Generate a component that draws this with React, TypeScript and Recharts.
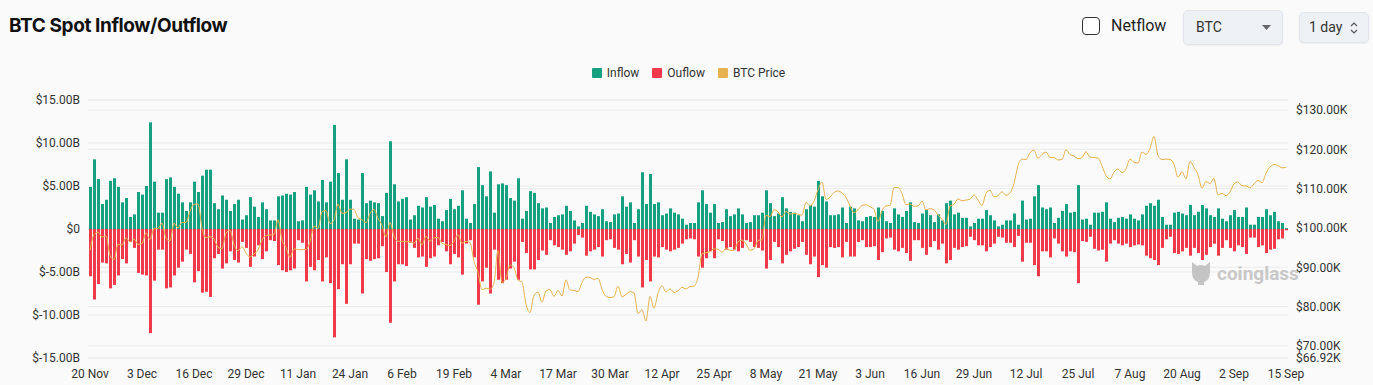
import React from 'react';
import { ComposedChart, Bar, Line, XAxis, YAxis, CartesianGrid, Legend } from 'recharts';

const MONTHS = ['Jan', 'Feb', 'Mar', 'Apr', 'May', 'Jun', 'Jul', 'Aug', 'Sep', 'Oct', 'Nov', 'Dec'];
const START_DAY = Date.UTC(2024, 10, 20);

const TICK_LABELS = [
  '20 Nov', '3 Dec', '16 Dec', '29 Dec', '11 Jan', '24 Jan', '6 Feb', '19 Feb', '4 Mar', '17 Mar',
  '30 Mar', '12 Apr', '25 Apr', '8 May', '21 May', '3 Jun', '16 Jun', '29 Jun', '12 Jul', '25 Jul',
  '7 Aug', '20 Aug', '2 Sep', '15 Sep',
];

// daily spot inflow, $B
const INFLOW_B = [
  4.9, 8.1, 5.8, 2.9, 3.4, 5.6, 5.9, 4.9, 3.1, 3.6, 1.4, 1.7, 4.3, 4.0, 5.0, 12.4, 5.5, 1.9, 1.9, 5.8,
  6.0, 4.9, 4.1, 3.1, 2.1, 3.1, 5.5, 4.3, 6.2, 6.9, 6.9, 3.0, 2.3, 3.9, 3.4, 2.1, 2.9,
  3.4, 1.1, 1.6, 3.7, 2.6, 1.4, 3.1, 2.3, 1.0, 1.0, 3.8, 3.9, 4.1, 4.0, 4.3, 0.9, 1.0, 4.9, 4.0, 4.5,
  3.2, 5.7, 3.1, 5.5, 12.1, 6.5, 3.4, 8.1, 3.4, 1.2, 1.1, 6.5, 3.0, 3.3, 3.1, 3.0, 1.5,
  4.2,
  10.2, 5.2, 3.2, 3.5, 3.7, 1.1, 1.6, 2.7, 2.5, 3.7, 2.6, 2.8, 1.2, 0.9, 2.2, 3.5, 2.3, 2.7, 4.5, 1.2,
  0.7, 2.9, 7.2, 5.1, 3.8, 6.7, 1.9, 5.2, 5.3, 5.1, 3.6, 3.3, 5.9, 1.2, 2.1, 4.4, 4.2, 3.0,
  2.4, 2.5, 0.7, 1.4, 1.6, 1.7, 2.7, 2.1, 1.0, 0.3, 0.7, 2.7, 2.0, 1.7, 1.5, 2.3, 0.9, 0.8, 1.7, 1.8,
  3.8, 2.6, 3.1, 0.7, 2.3, 6.6, 2.9, 6.4, 2.9, 3.1, 1.6, 1.8, 2.4, 1.9, 1.7, 1.2, 0.5, 0.7,
  0.7, 3.1, 4.5, 2.9, 1.9, 2.9, 0.7, 0.8, 2.3, 1.5, 1.7, 2.4, 1.7, 0.7, 0.8, 1.6, 1.6, 1.9, 4.5, 3.0,
  1.5, 1.8, 3.7, 2.4, 2.0, 1.9, 1.6, 0.9, 2.3, 2.8, 2.6, 5.6, 3.8, 3.2, 1.6, 1.6, 1.7,
  2.5, 0.7, 2.6, 2.4, 1.0, 0.9, 1.4, 1.5, 1.4, 2.5, 2.1, 0.9, 0.7, 2.4, 1.7, 1.4, 2.1, 3.1, 0.8, 0.7,
  1.8, 2.2, 1.6, 0.8, 1.7, 1.0, 3.0, 3.3, 1.7, 1.9, 1.3, 1.3, 0.3, 0.7, 1.2, 1.2, 2.2, 1.6,
  1.0, 0.3, 0.5, 1.0, 1.0, 1.8, 0.5, 3.3, 1.1, 1.2, 3.8, 5.1, 2.5, 2.3, 2.5, 0.7, 1.3, 2.1, 2.9, 1.9,
  2.0, 5.1, 1.1, 1.2, 0.5, 1.9, 1.9, 2.0, 3.1, 1.2, 0.8, 1.3, 1.4, 1.2, 1.7, 1.2, 1.0, 1.7,
  2.7, 3.0, 2.7, 3.4, 1.4, 0.5, 0.5, 1.9, 2.0, 1.8, 1.6, 2.8, 1.6, 2.0, 2.8, 2.4, 1.6, 1.4, 2.4, 1.2,
  0.9, 1.6, 2.2, 1.4, 1.4, 2.5, 0.5, 0.5, 1.4, 1.4, 2.3, 1.6, 2.0, 0.9, 0.7, 0.1,
];

// daily spot outflow, $B (drawn below zero)
const OUTFLOW_B = [
  5.5, 8.2, 6.4, 3.9, 4.0, 6.9, 6.5, 5.4, 3.5, 4.0, 1.5, 2.2, 5.1, 5.3, 5.4, 12.1, 6.0, 2.4, 2.4, 6.9,
  6.8, 5.4, 4.5, 3.8, 2.4, 2.9, 6.2, 4.9, 7.4, 7.3, 7.9, 3.4, 2.9, 4.6, 4.0, 2.6, 3.6,
  3.9, 1.5, 2.2, 4.4, 3.2, 1.9, 3.5, 2.6, 1.3, 1.4, 4.2, 4.8, 5.0, 4.8, 4.6, 1.3, 1.6, 6.1, 4.4, 4.8,
  3.6, 6.1, 3.3, 6.3, 12.6, 7.0, 4.1, 8.7, 4.1, 1.7, 1.7, 7.5, 3.5, 3.7, 3.5, 3.4, 2.0,
  5.0,
  10.9, 6.1, 4.1, 4.1, 4.3, 1.6, 2.2, 3.3, 3.2, 4.4, 3.4, 3.2, 1.9, 1.5, 2.6, 4.1, 2.9, 3.3, 5.3, 1.7,
  1.3, 3.3, 8.8, 6.1, 4.5, 7.5, 2.4, 5.9, 6.3, 5.9, 4.6, 3.8, 5.9, 1.5, 2.8, 4.7, 4.7, 3.6,
  2.5, 3.0, 1.3, 1.9, 2.1, 2.4, 3.0, 2.6, 1.7, 0.7, 1.0, 3.1, 2.6, 2.4, 2.1, 3.2, 1.3, 1.2, 2.2, 2.4,
  4.1, 2.9, 3.9, 1.3, 3.2, 6.8, 3.6, 6.1, 3.2, 3.3, 2.1, 2.4, 2.6, 2.4, 2.2, 1.7, 1.2, 1.1,
  1.2, 3.2, 4.5, 3.4, 2.6, 3.4, 1.2, 1.4, 2.4, 2.1, 2.4, 2.6, 2.2, 1.3, 1.5, 2.1, 2.2, 2.5, 4.6, 3.6,
  1.5, 2.1, 4.0, 3.0, 2.6, 2.3, 2.1, 1.5, 3.0, 4.1, 3.2, 5.6, 4.2, 4.5, 2.1, 2.2, 2.1,
  3.3, 1.5, 3.2, 3.2, 1.5, 1.3, 2.1, 2.1, 2.0, 3.6, 2.7, 1.1, 1.0, 2.4, 2.6, 2.2, 2.8, 3.7, 1.3, 1.3,
  2.2, 3.0, 2.1, 1.4, 2.4, 1.7, 4.0, 3.6, 2.2, 2.4, 2.1, 2.0, 0.9, 1.3, 1.9, 1.9, 2.6, 2.1,
  1.7, 0.9, 1.0, 1.6, 1.6, 2.1, 0.8, 3.8, 1.6, 1.6, 4.2, 5.5, 2.6, 2.6, 3.3, 1.1, 1.7, 2.6, 3.2, 2.6,
  2.7, 6.3, 1.4, 1.5, 0.9, 2.3, 2.5, 2.4, 3.8, 1.7, 1.3, 1.7, 1.9, 1.7, 2.1, 1.9, 1.8, 1.9,
  3.1, 3.4, 3.6, 4.2, 2.2, 1.2, 0.9, 2.8, 2.9, 2.6, 2.2, 3.1, 2.2, 2.8, 3.6, 3.0, 2.1, 1.7, 3.1, 2.2,
  1.3, 2.2, 2.6, 1.9, 2.1, 2.9, 1.0, 1.0, 2.1, 1.9, 2.8, 2.4, 2.3, 1.2, 1.1, 0.15,
];

// BTC daily price, $K
const PRICE_K = [
  94.3, 98.3, 98.9, 97.7, 98.0, 93.0, 91.9, 95.9, 95.6, 97.5, 96.4,
  97.2, 95.8, 96.0, 98.8, 97.0, 99.9, 99.9, 101.2, 97.4, 96.7, 101.2, 100.0, 101.4, 101.4, 104.3, 106.0,
  106.1, 100.0, 97.5, 97.8, 97.2, 95.1, 94.7, 98.7, 99.4, 95.8, 94.2, 95.2, 93.6, 92.6, 93.4,
  94.4, 96.9, 98.1, 98.2, 98.3, 102.1, 96.9, 95.0, 92.5, 94.7, 94.5, 94.5, 94.5, 96.5, 100.5, 99.9,
  104.1, 104.4, 101.1, 102.0, 106.1, 103.7, 103.9, 104.8, 104.7, 102.6, 102.1, 101.3, 103.7, 104.7, 102.4,
  100.7, 97.7, 101.4, 97.9, 96.6, 96.6, 96.5, 96.5, 96.1, 97.4, 95.7, 97.9, 96.6, 97.5, 97.6, 96.1,
  95.8, 95.5, 96.6, 98.3, 96.1, 96.6, 96.3, 91.5, 88.7, 84.3, 84.7, 84.4,
  86.0, 94.3, 86.1, 87.2, 90.6, 89.9, 86.7, 86.2, 80.6, 78.5, 82.9, 83.7, 81.1, 84.0, 84.3, 82.6,
  84.1, 82.7, 86.8, 84.2, 84.1, 83.8, 86.1, 87.5, 87.4, 86.9, 87.2, 84.4, 82.6, 82.3, 82.5,
  85.2, 82.5, 83.1, 83.8, 83.5, 78.2, 79.2, 76.3, 82.6, 79.6, 83.4, 85.3, 83.7, 84.5, 83.6, 84.0,
  84.9, 84.5, 85.1, 85.2, 87.5, 93.4, 93.7, 93.9, 94.7, 94.6, 93.8, 94.9, 94.3, 94.2,
  96.5, 96.9, 95.9, 94.3, 94.7, 96.8, 97.0, 103.2, 102.9, 104.6, 104.1, 102.8, 104.2, 103.5, 103.7,
  103.5, 103.2, 106.5, 105.6, 106.8, 109.7, 111.7, 107.3, 107.8, 109.0, 109.4, 108.9, 107.8, 105.6,
  103.9, 104.6,
  105.7, 105.9, 105.4, 104.7, 101.6, 104.4, 105.6, 105.7, 110.3, 110.3, 108.7, 105.9, 106.1, 105.5,
  105.6, 106.8, 104.6, 104.9, 104.6, 103.3, 102.2, 100.9, 105.6, 106.0, 107.4, 106.9, 107.1, 107.3,
  108.4, 107.1,
  105.7, 108.8, 109.6, 107.9, 108.2, 109.2, 108.3, 108.9, 111.3, 115.9, 117.5, 117.4, 119.1, 119.8,
  117.7, 118.7, 119.3, 117.9, 117.9, 117.3, 117.4, 119.9, 118.7, 118.3, 117.6, 117.9, 119.4, 118.0,
  117.9, 117.8, 115.8,
  113.3, 112.5, 114.2, 115.0, 114.1, 115.0, 117.5, 116.7, 116.5, 119.3, 118.7, 120.2, 123.3, 118.4,
  117.4, 117.5, 117.4, 116.2, 112.9, 114.3, 112.5, 116.9, 115.4, 113.5, 110.1, 111.8, 111.3, 112.6,
  108.4, 108.8, 108.2,
  109.2, 111.2, 111.7, 110.7, 110.7, 110.2, 111.2, 112.1, 111.5, 113.9, 115.5, 116.1, 115.9, 115.3, 115.4,
];

const FLOW_TICKS = [-15e9, -10e9, -5e9, 0, 5e9, 10e9, 15e9];
const PRICE_TICKS = [66920, 70000, 80000, 90000, 100000, 110000, 120000, 130000];

const COLORS = { inflow: '#15a07f', outflow: '#f03a4c', price: '#e6b34e' };

const dayLabel = (i: number) => {
  const d = new Date(START_DAY + i * 86400000);
  return `${d.getUTCDate()} ${MONTHS[d.getUTCMonth()]}`;
};

const data = PRICE_K.map((p, i) => ({
  date: dayLabel(i),
  inflow: INFLOW_B[i] * 1e9,
  outflow: -OUTFLOW_B[i] * 1e9,
  price: p * 1000,
}));

const fmtFlow = (v: number) => (v === 0 ? '$0' : `$${(v / 1e9).toFixed(2)}B`);
const fmtPrice = (v: number) => `$${(v / 1000).toFixed(2)}K`;

const FONT = 'Roboto, "Noto Sans", sans-serif';

const DateTick = (props: any) => {
  const { x, y, payload } = props;
  if (!TICK_LABELS.includes(payload.value)) return <g />;
  return (
    <text x={x} y={y + 12} textAnchor="middle" fontSize={12} fill="#333" fontFamily={FONT}>
      {payload.value}
    </text>
  );
};

const legendItems = [
  { label: 'Inflow', color: COLORS.inflow },
  { label: 'Ouflow', color: COLORS.outflow },
  { label: 'BTC Price', color: COLORS.price },
];

const FlowLegend = () => (
  <div style={{ display: 'flex', justifyContent: 'center', gap: 13, fontFamily: FONT, fontSize: 12, color: '#333', paddingLeft: 4 }}>
    {legendItems.map((it) => (
      <div key={it.label} style={{ display: 'flex', alignItems: 'center' }}>
        <span style={{ width: 10, height: 10, background: it.color, borderRadius: 1, marginRight: 5, display: 'inline-block' }} />
        <span>{it.label}</span>
      </div>
    ))}
  </div>
);

export default function App() {
  return (
    <div style={{ position: 'absolute', left: 0, top: 0, width: 1373, height: 385, background: '#fafafa', overflow: 'hidden' }}>
      <div style={{ position: 'absolute', left: 9, top: 14, fontFamily: 'Inter, sans-serif', fontWeight: 700, fontSize: 19, letterSpacing: -0.4, color: '#111' }}>
        BTC Spot Inflow/Outflow
      </div>

      <div style={{ position: 'absolute', left: 1082, top: 17, width: 16, height: 16, border: '1.5px solid #333', borderRadius: 4, background: '#fff' }} />
      <div style={{ position: 'absolute', left: 1111, top: 16, fontFamily: FONT, fontSize: 16, color: '#222' }}>Netflow</div>

      <div style={{ position: 'absolute', left: 1183, top: 10, width: 98, height: 33, background: '#eef1f4', border: '1px solid #e1e5ea', borderRadius: 5, boxShadow: '0 1px 2px rgba(0,0,0,0.06)', fontFamily: FONT, fontSize: 14, color: '#333' }}>
        <span style={{ position: 'absolute', left: 12, top: 8 }}>BTC</span>
        <svg style={{ position: 'absolute', left: 78, top: 14 }} width="9" height="5">
          <path d="M0 0 L9 0 L4.5 5 Z" fill="#666" />
        </svg>
      </div>

      <div style={{ position: 'absolute', left: 1299, top: 12, width: 68, height: 29, background: '#eef1f4', border: '1px solid #e1e5ea', borderRadius: 5, boxShadow: '0 1px 2px rgba(0,0,0,0.06)', fontFamily: FONT, fontSize: 14, color: '#333' }}>
        <span style={{ position: 'absolute', left: 9, top: 6 }}>1 day</span>
        <svg style={{ position: 'absolute', left: 50, top: 8 }} width="8" height="14">
          <path d="M1 5 L4 2 L7 5 M1 9 L4 12 L7 9" stroke="#555" strokeWidth="1.2" fill="none" />
        </svg>
      </div>

      <ComposedChart
        width={1373}
        height={385}
        data={data}
        stackOffset="sign"
        margin={{ top: 100, right: 0, bottom: 0, left: 0 }}
      >
        <CartesianGrid yAxisId="left" vertical={false} stroke="#ebebeb" />
        <CartesianGrid yAxisId="right" vertical={false} stroke="#ebebeb" />
        <XAxis dataKey="date" interval={0} tick={<DateTick />} tickLine={false} axisLine={false} height={27} />
        <YAxis
          yAxisId="left"
          width={88}
          domain={[-15e9, 15e9]}
          ticks={FLOW_TICKS}
          interval={0}
          tickFormatter={fmtFlow}
          axisLine={false}
          tickLine={false}
          tick={{ fontSize: 12, fill: '#333', fontFamily: FONT }}
        />
        <YAxis
          yAxisId="right"
          orientation="right"
          width={85}
          domain={[66920, 132540]}
          allowDataOverflow
          ticks={PRICE_TICKS}
          interval={0}
          tickFormatter={fmtPrice}
          axisLine={false}
          tickLine={false}
          tick={{ fontSize: 12, fill: '#333', fontFamily: FONT, textAnchor: 'start' }}
        />
        <Legend verticalAlign="middle" wrapperStyle={{ top: 66, left: 0, width: 1373 }} content={<FlowLegend />} />
        <Bar yAxisId="left" dataKey="inflow" stackId="flow" fill={COLORS.inflow} barSize={3} isAnimationActive={false} />
        <Bar yAxisId="left" dataKey="outflow" stackId="flow" fill={COLORS.outflow} barSize={3} isAnimationActive={false} />
        <Line
          yAxisId="right"
          dataKey="price"
          type="monotone"
          stroke={COLORS.price}
          strokeWidth={1}
          dot={false}
          isAnimationActive={false}
        />
      </ComposedChart>

      <div style={{ position: 'absolute', left: 1189, top: 260, display: 'flex', alignItems: 'center', pointerEvents: 'none' }}>
        <svg width="24" height="26" viewBox="0 0 24 26">
          <path d="M3 2 L8 6 Q12 4 16 6 L21 2 L21 12 Q21 20 15 22 L15 25 L9 25 L9 22 Q3 20 3 12 Z" fill="#c4c4c4" />
        </svg>
        <span style={{ marginLeft: 4, fontFamily: FONT, fontWeight: 700, fontSize: 19, color: '#c8c8c8' }}>coinglass</span>
      </div>
    </div>
  );
}
